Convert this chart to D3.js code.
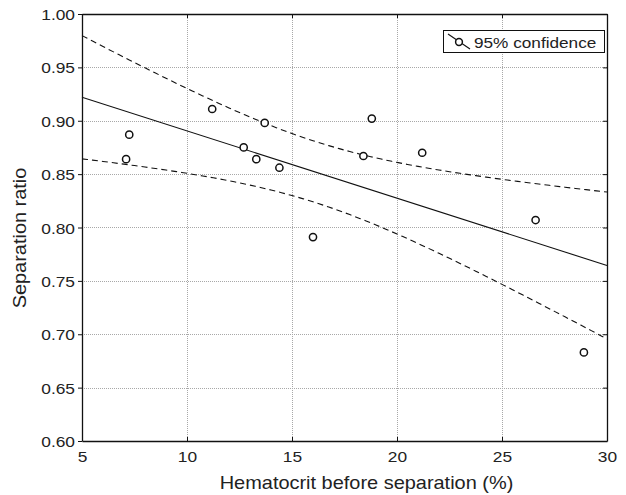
<html>
<head>
<script src="https://cdn.jsdelivr.net/npm/d3@7/dist/d3.min.js"></script>
<style>
  body { margin: 0; background: #fff; }
  text { font-family: "Liberation Sans", Arial, sans-serif; fill: #222; }
</style>
</head>
<body>
<script>
    // measured points: hematocrit (%) and separation ratio
    var hematocrit = [7.1, 7.25, 11.2, 12.7, 13.3, 13.7, 14.4, 16.0, 18.4, 18.8, 21.2, 26.6, 28.9];
    var sepRatio   = [0.864, 0.887, 0.911, 0.875, 0.864, 0.898, 0.856, 0.791, 0.867, 0.902, 0.870, 0.807, 0.683];

    // axis ticks
    var xTicks = [5, 10, 15, 20, 25, 30];
    var yTicks = [0.60, 0.65, 0.70, 0.75, 0.80, 0.85, 0.90, 0.95, 1.00];

    var legendLabel = "95% confidence";
    var xTitle = "Hematocrit before separation (%)";
    var yTitle = "Separation ratio";

    // t value for 95% two-sided, n - 2 = 11 degrees of freedom
    var tCrit = 2.201;

    var width = 626, height = 495;
    // plot box edges (note: "top" is a reserved global in browsers)
    var pLeft = 82, pRight = 607, pTop = 14, pBottom = 441;

    var svg = d3.select("body").append("svg")
        .attr("width", width)
        .attr("height", height);

    svg.append("rect").attr("width", width).attr("height", height).attr("fill", "#fff");

    var x = d3.scaleLinear().domain([5, 30]).range([pLeft, pRight]);
    var y = d3.scaleLinear().domain([0.60, 1.00]).range([pBottom, pTop]);

    // grid lines (dotted)
    var grid = svg.append("g").attr("stroke", "#a8a8a8").attr("stroke-width", 1)
        .attr("stroke-dasharray", "1,1");
    grid.selectAll(".gx").data(xTicks.slice(1, -1)).enter().append("line")
        .attr("x1", d => Math.round(x(d)) + 0.5).attr("x2", d => Math.round(x(d)) + 0.5)
        .attr("y1", pTop).attr("y2", pBottom);
    grid.selectAll(".gy").data(yTicks.slice(1, -1)).enter().append("line")
        .attr("y1", d => Math.round(y(d)) + 0.5).attr("y2", d => Math.round(y(d)) + 0.5)
        .attr("x1", pLeft).attr("x2", pRight);

    // linear regression from the points
    var n = hematocrit.length;
    var mx = d3.mean(hematocrit), my = d3.mean(sepRatio);
    var sxx = 0, sxy = 0;
    for (var i = 0; i < n; i++) {
        sxx += (hematocrit[i] - mx) * (hematocrit[i] - mx);
        sxy += (hematocrit[i] - mx) * (sepRatio[i] - my);
    }
    var slope = sxy / sxx, icpt = my - slope * mx;
    var sse = 0;
    for (var i = 0; i < n; i++) {
        var e = sepRatio[i] - (icpt + slope * hematocrit[i]);
        sse += e * e;
    }
    var s = Math.sqrt(sse / (n - 2));
    function fit(v) { return icpt + slope * v; }
    function half(v) { return tCrit * s * Math.sqrt(1 / n + (v - mx) * (v - mx) / sxx); }

    var xs = d3.range(5, 30.001, 0.25);
    var line = d3.line().x(d => x(d[0])).y(d => y(d[1]));

    var plot = svg.append("g");
    plot.append("path")
        .attr("d", line(xs.map(v => [v, fit(v) + half(v)])))
        .attr("fill", "none").attr("stroke", "#111").attr("stroke-width", 1.1)
        .attr("stroke-dasharray", "6,4");
    plot.append("path")
        .attr("d", line(xs.map(v => [v, fit(v) - half(v)])))
        .attr("fill", "none").attr("stroke", "#111").attr("stroke-width", 1.1)
        .attr("stroke-dasharray", "6,4");
    plot.append("path")
        .attr("d", line([[5, fit(5)], [30, fit(30)]]))
        .attr("fill", "none").attr("stroke", "#111").attr("stroke-width", 1.1);

    // points
    plot.selectAll("circle").data(hematocrit).enter().append("circle")
        .attr("cx", (d, i) => x(d))
        .attr("cy", (d, i) => y(sepRatio[i]))
        .attr("r", 3.6)
        .attr("fill", "#fff").attr("stroke", "#111").attr("stroke-width", 1.5);

    // axes
    var axB = svg.append("g").attr("transform", "translate(0," + pBottom + ")")
        .call(d3.axisBottom(x).tickValues(xTicks).tickSize(-4).tickSizeOuter(0).tickFormat(d3.format("d")));
    axB.selectAll("text").attr("y", 0).attr("dy", 0)
        .attr("transform", "translate(0,21) scale(1.12,1)")
        .style("font-size", "15.5px");

    var axL = svg.append("g").attr("transform", "translate(" + pLeft + ",0)")
        .call(d3.axisLeft(y).tickValues(yTicks).tickSize(4).tickSizeOuter(0).tickFormat(d3.format(".2f")));
    axL.selectAll("text").attr("x", 0).attr("dy", "0.36em")
        .attr("transform", "translate(-7,0) scale(1.12,1)")
        .style("font-size", "15.5px");

    svg.append("g").attr("transform", "translate(0," + pTop + ")")
        .call(d3.axisTop(x).tickValues(xTicks).tickSize(-4).tickSizeOuter(0).tickFormat(""));
    svg.append("g").attr("transform", "translate(" + pRight + ",0)")
        .call(d3.axisRight(y).tickValues(yTicks).tickSize(-4).tickSizeOuter(0).tickFormat(""));

    svg.selectAll(".domain").attr("stroke", "#111").attr("stroke-width", 1.3);
    svg.selectAll(".tick line").attr("stroke", "#111");
    svg.selectAll(".tick text").attr("fill", "#222").style("font-family", "'Liberation Sans', Arial, sans-serif");

    // axis titles
    svg.append("text")
        .attr("transform", "translate(" + ((pLeft + pRight) / 2 + 22) + ",489) scale(1.14,1)")
        .attr("text-anchor", "middle")
        .style("font-size", "17.5px")
        .text(xTitle);
    svg.append("text")
        .attr("transform", "translate(26,238) rotate(-90) scale(1.14,1)")
        .attr("text-anchor", "middle")
        .style("font-size", "17.5px")
        .text(yTitle);

    // legend
    var lg = svg.append("g");
    lg.append("rect").attr("x", 443.5).attr("y", 30.5).attr("width", 161).attr("height", 22)
        .attr("fill", "#fff").attr("stroke", "#111").attr("stroke-width", 1);
    lg.append("line").attr("x1", 448).attr("y1", 34).attr("x2", 470).attr("y2", 49)
        .attr("stroke", "#111").attr("stroke-width", 1.1);
    lg.append("circle").attr("cx", 459).attr("cy", 42).attr("r", 3.4)
        .attr("fill", "#fff").attr("stroke", "#111").attr("stroke-width", 1.5);
    lg.append("text").attr("transform", "translate(474,47.5) scale(1.11,1)")
        .style("font-size", "15.5px")
        .text(legendLabel);
</script>
</body>
</html>
